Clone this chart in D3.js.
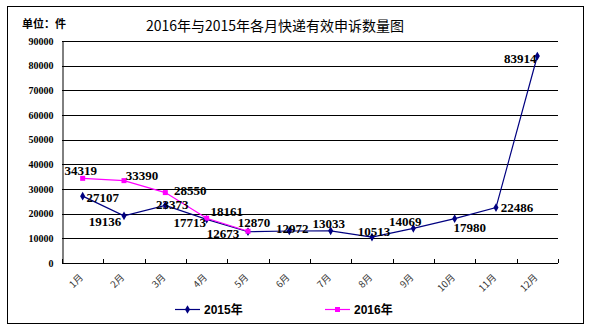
<!DOCTYPE html>
<html><head><meta charset="utf-8">
<script src="https://cdn.jsdelivr.net/npm/d3@7/dist/d3.min.js"></script>
<style>body{margin:0;background:#fff}svg{display:block}</style>
</head><body>
<script>
const months = ["1月","2月","3月","4月","5月","6月","7月","8月","9月","10月","11月","12月"];
const values2015 = [27107,19136,23373,17713,12673,12972,13033,10513,14069,17980,22486,83914];
const values2016 = [34319,33390,28550,18161,12870];
const yTicks = [0,10000,20000,30000,40000,50000,60000,70000,80000,90000];
// label offsets (dx, dy) relative to point, per series
const off2015 = [[20,1],[-19,6],[7,-1],[-17,3],[-25,2],[3,-3],[-2,-7],[2,-6],[-8,-7],[15,9],[21,0],[-17,2]];
const off2016 = [[-2,-8],[18,-5],[25,-2],[20,-7],[6,-9]];

const W=592,H=331;
const svg=d3.select("body").append("svg").attr("width",W).attr("height",H);
svg.append("rect").attr("x",7.5).attr("y",6.5).attr("width",576).attr("height",317)
  .attr("fill","#fff").attr("stroke","#000").attr("stroke-width",1);

const m={l:62,r:558,t:41,b:263};
const x=d3.scaleBand().domain(months).range([m.l,m.r]);
const y=d3.scaleLinear().domain([0,90000]).range([m.b,m.t]);
const cx=d=>x(d)+x.bandwidth()/2;

// gridlines
svg.append("g").selectAll("line").data(yTicks.filter(v=>v>0)).join("line")
  .attr("x1",m.l).attr("x2",m.r).attr("y1",d=>Math.round(y(d))+0.5).attr("y2",d=>Math.round(y(d))+0.5)
  .attr("stroke","#000").attr("stroke-width",1);

// y axis
const ya=svg.append("g").attr("transform",`translate(${m.l+0.5},0)`)
  .call(d3.axisLeft(y).tickValues(yTicks).tickSize(0).tickPadding(9).tickFormat(d3.format("d")));
ya.select(".domain").attr("stroke","#000");
ya.selectAll("text").attr("font-family","'Liberation Serif','Times New Roman',serif")
  .attr("font-weight","bold").attr("font-size","10px").attr("fill","#000");

// x axis
const xa=svg.append("g").attr("transform",`translate(0,${m.b+0.5})`)
  .call(d3.axisBottom(x).tickSize(0).tickFormat(""));
xa.select(".domain").attr("stroke","#000").attr("d",`M${m.l},0H${m.r}`);
svg.append("g").selectAll("line").data(months.concat(["end"])).join("line")
  .attr("x1",(d,i)=>Math.round(m.l+i*x.bandwidth())+0.5).attr("x2",(d,i)=>Math.round(m.l+i*x.bandwidth())+0.5)
  .attr("y1",m.b).attr("y2",m.b-4).attr("stroke","#000");
svg.append("g").selectAll("text").data(months).join("text")
  .attr("transform",d=>`translate(${cx(d)+1},${m.b+15}) rotate(-45)`)
  .attr("text-anchor","end").attr("font-family","'Noto Sans CJK SC',sans-serif")
  .attr("font-size","9.5px").attr("fill","#333").text(d=>d);

// lines
const line=d3.line().x((d,i)=>cx(months[i])).y(d=>y(d));
svg.append("path").datum(values2015).attr("d",line).attr("fill","none").attr("stroke","#000080").attr("stroke-width",1.2);
svg.append("path").datum(values2016).attr("d",line).attr("fill","none").attr("stroke","#ff00ff").attr("stroke-width",1.2);

const diamond=d3.symbol().type(d3.symbolDiamond).size(22);
svg.append("g").selectAll("path").data(values2015).join("path")
  .attr("d",diamond).attr("transform",(d,i)=>`translate(${cx(months[i])},${y(d)})`).attr("fill","#000080");
svg.append("g").selectAll("rect").data(values2016).join("rect")
  .attr("x",(d,i)=>cx(months[i])-2.5).attr("y",d=>y(d)-2.5).attr("width",5).attr("height",5).attr("fill","#ff00ff");

// data labels
const lblFont="'Liberation Serif','Times New Roman',serif";
function labels(vals,off){
  svg.append("g").selectAll("text").data(vals).join("text")
    .attr("x",(d,i)=>cx(months[i])+off[i][0]).attr("y",(d,i)=>y(d)+off[i][1])
    .attr("text-anchor","middle").attr("dominant-baseline","central")
    .attr("font-family",lblFont).attr("font-weight","bold").attr("font-size","13px").attr("fill","#000")
    .text(d=>d);
}
labels(values2015,off2015);
labels(values2016,off2016);

// title
svg.append("text").attr("x",275).attr("y",25).attr("text-anchor","middle").attr("dominant-baseline","central")
  .attr("font-family","'Noto Sans CJK SC',sans-serif").attr("font-size","14px").attr("fill","#000")
  .text("2016年与2015年各月快递有效申诉数量图");
svg.append("text").attr("x",22).attr("y",23).attr("dominant-baseline","central")
  .attr("font-family","'Noto Sans CJK SC',sans-serif").attr("font-weight","bold").attr("font-size","11px").attr("fill","#000")
  .text("单位：件");

// legend
const leg=[{n:"2015年",c:"#000080",x:175,t:"d"},{n:"2016年",c:"#ff00ff",x:325,t:"s"}];
const lg=svg.append("g");
leg.forEach(L=>{
  lg.append("line").attr("x1",L.x).attr("x2",L.x+25).attr("y1",309.5).attr("y2",309.5).attr("stroke",L.c).attr("stroke-width",1.2);
  if(L.t==="d") lg.append("path").attr("d",diamond).attr("transform",`translate(${L.x+12.5},309.5)`).attr("fill",L.c);
  else lg.append("rect").attr("x",L.x+10).attr("y",307).attr("width",5).attr("height",5).attr("fill",L.c);
  lg.append("text").attr("x",L.x+29).attr("y",310).attr("dominant-baseline","central")
    .attr("font-family","'Liberation Sans',Arial,'Noto Sans CJK SC',sans-serif").attr("font-weight","bold").attr("font-size","12px").text(L.n);
});
</script>
</body></html>
